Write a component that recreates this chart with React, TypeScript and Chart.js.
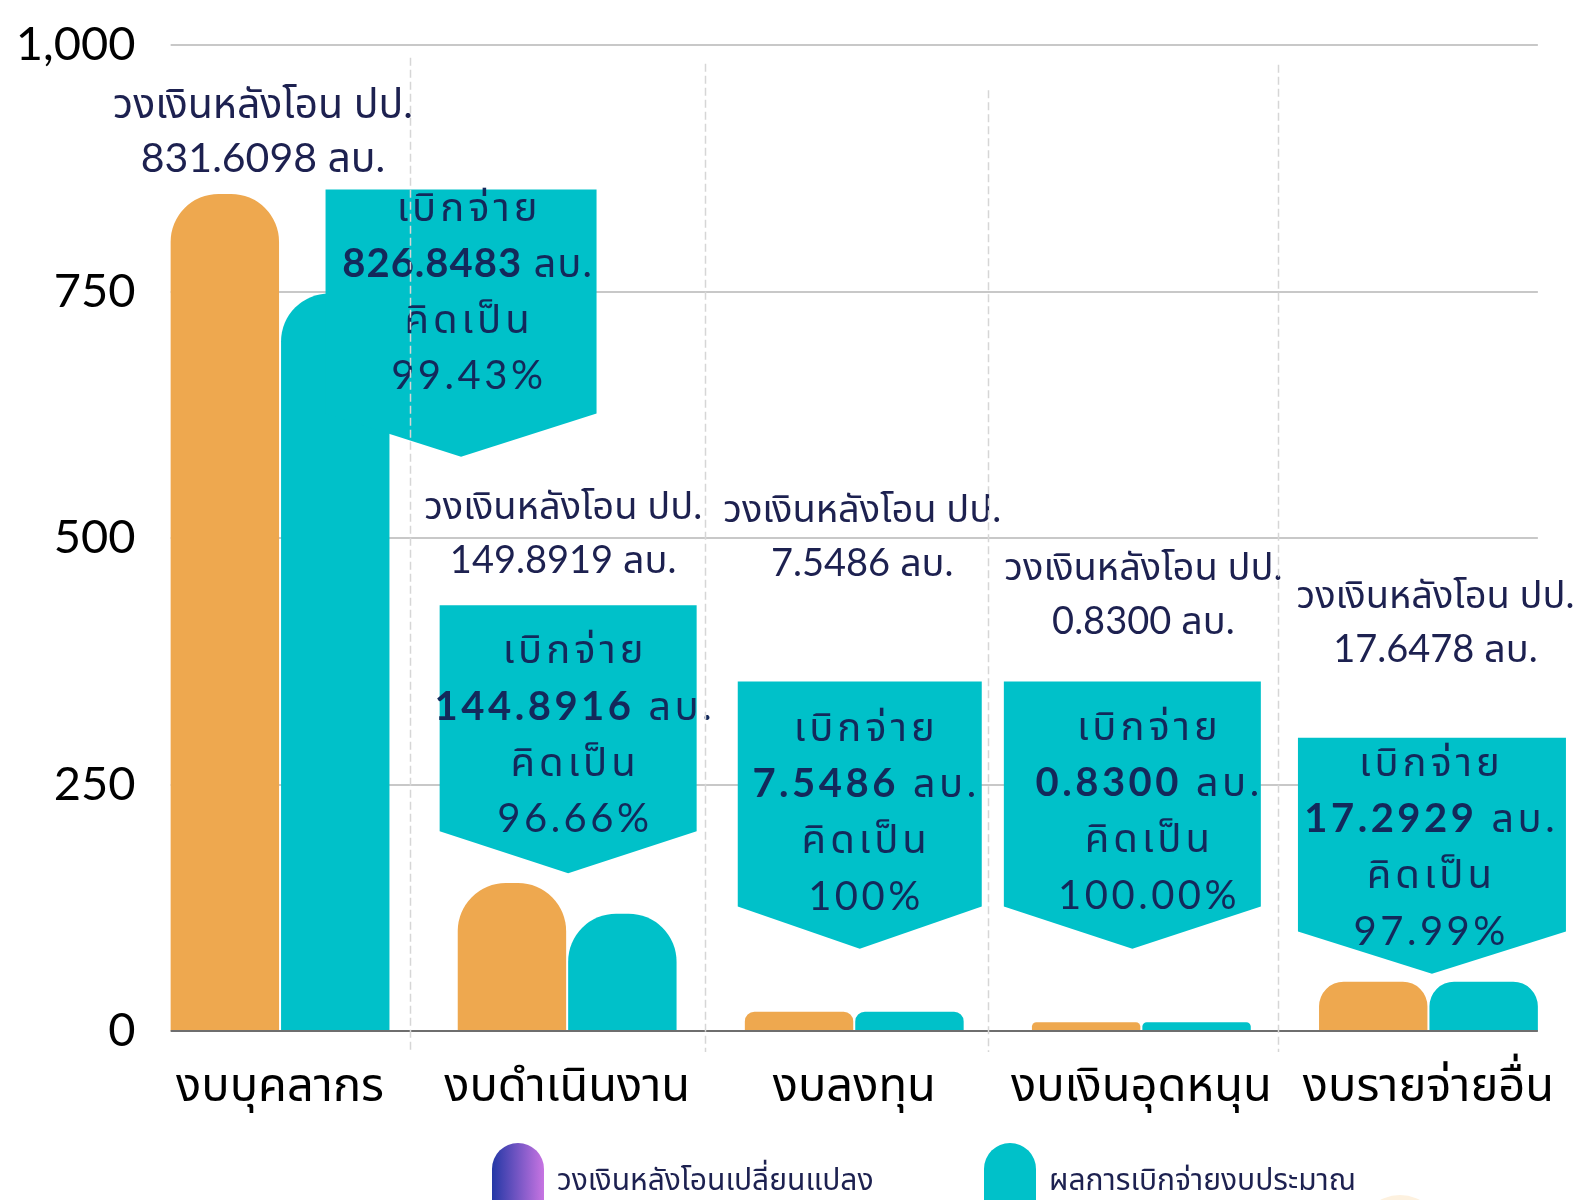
import React, { useEffect, useRef } from 'react';
import { Chart, registerables } from 'chart.js';

Chart.register(...registerables);

// ---------- data ----------
const categories = ['งบบุคลากร', 'งบดำเนินงาน', 'งบลงทุน', 'งบเงินอุดหนุน', 'งบรายจ่ายอื่น'];
const seriesNames = ['วงเงินหลังโอนเปลี่ยนแปลง', 'ผลการเบิกจ่ายงบประมาณ'];
const budgetBars = [849, 150, 19.5, 9, 50];
const spentBars = [748, 119, 19.5, 9, 50];
const budgetText = ['831.6098', '149.8919', '7.5486', '0.8300', '17.6478'];
const spentText = ['826.8483', '144.8916', '7.5486', '0.8300', '17.2929'];
const percentText = ['99.43%', '96.66%', '100%', '100.00%', '97.99%'];
const yTicks = [0, 250, 500, 750, 1000];
const budgetTitle = 'วงเงินหลังโอน ปป.';
const unitText = 'ลบ.';
const spentTitle = 'เบิกจ่าย';
const percentTitle = 'คิดเป็น';

// ---------- styles / layout ----------
const ORANGE = '#EEA84F';
const TEAL = '#00C1C9';
const NAVY = '#1D2150';
const CALLOUT_TEXT = '#13295B';
const GRID = '#C8C8C8';
const BASE = '#6E6E6E';
const DASH = '#D6D6D6';
const FONT = "Lato, 'Noto Sans Thai', 'Noto Sans', sans-serif";

// budget label: x offset from category centre (px), first-line centre (axis value), font size
const labelDx = [-17, -4, 8, 2, 7];
const labelY = [939, 531.6, 528.5, 469.5, 441];
const labelSize = [41, 38, 38, 38, 38];
const LABEL_LINE = 54;
// callouts: centre offset (px), width (px), top / side-bottom / tip (axis value)
const calloutDx = [181, 1, 5.5, -9, 3.5];
const calloutW = [271, 257, 244, 257, 268];
const calloutTop = [853.4, 431.8, 354.4, 354.4, 297.4];
const calloutSide = [626.3, 202.6, 126.3, 126.3, 100.8];
const calloutTip = [582.5, 159.9, 83.5, 83.5, 58];
const calloutTextDx = [187, 6, 10, 6, 1];
const calloutTextY = [835, 386, 307.5, 308.6, 271.9];
const calloutBoldSpacing = [1, 3.5, 3.5, 3.5, 3.5];
const CALLOUT_LINE = 56.3;
// dashed separators: px offset from midpoint between categories, top (axis value)
const dashDx = [-14, -6, -10, -7];
const dashTop = [987, 981, 954, 980];
const dashBottom = -21.4;

function drawParts(ctx: CanvasRenderingContext2D, cx: number, cy: number, parts: { t: string; f: string; ls: number }[]) {
  let total = 0;
  const widths = parts.map(p => {
    ctx.font = p.f;
    (ctx as any).letterSpacing = p.ls + 'px';
    const w = ctx.measureText(p.t).width;
    total += w;
    return w;
  });
  total -= parts[parts.length - 1].ls;
  let x = cx - total / 2;
  parts.forEach((p, i) => {
    ctx.font = p.f;
    (ctx as any).letterSpacing = p.ls + 'px';
    ctx.textAlign = 'left';
    ctx.fillText(p.t, x, cy);
    x += widths[i];
  });
  (ctx as any).letterSpacing = '0px';
}

function barExtent(chart: any) {
  const first = chart.getDatasetMeta(0).data[0];
  const lastMeta = chart.getDatasetMeta(1).data;
  const last = lastMeta[lastMeta.length - 1];
  return [first.x - first.width / 2, last.x + last.width / 2];
}

const decor = {
  id: 'decor',
  beforeDatasetsDraw(chart: any) {
    const { ctx, scales } = chart;
    const y = scales.y;
    const [left, right] = barExtent(chart);
    ctx.save();
    ctx.strokeStyle = GRID;
    ctx.lineWidth = 2;
    yTicks.forEach(v => {
      if (v === 0) return;
      const py = Math.round(y.getPixelForValue(v));
      ctx.beginPath();
      ctx.moveTo(left, py);
      ctx.lineTo(right, py);
      ctx.stroke();
    });
    ctx.restore();
  },
  afterDatasetsDraw(chart: any) {
    const { ctx, scales } = chart;
    const x = scales.x;
    const y = scales.y;
    const [left, right] = barExtent(chart);
    ctx.save();

    // baseline
    const by = Math.round(y.getPixelForValue(0));
    ctx.strokeStyle = BASE;
    ctx.lineWidth = 2;
    ctx.beginPath();
    ctx.moveTo(left, by);
    ctx.lineTo(right, by);
    ctx.stroke();

    categories.forEach((_, i) => {
      const cx = x.getPixelForValue(i);
      // callout shape
      const ccx = cx + calloutDx[i];
      const hw = calloutW[i] / 2;
      const top = y.getPixelForValue(calloutTop[i]);
      const side = y.getPixelForValue(calloutSide[i]);
      const tip = y.getPixelForValue(calloutTip[i]);
      ctx.fillStyle = TEAL;
      ctx.beginPath();
      ctx.moveTo(ccx - hw, top);
      ctx.lineTo(ccx + hw, top);
      ctx.lineTo(ccx + hw, side);
      ctx.lineTo(ccx, tip);
      ctx.lineTo(ccx - hw, side);
      ctx.closePath();
      ctx.fill();

      // callout text
      ctx.fillStyle = CALLOUT_TEXT;
      ctx.textBaseline = 'middle';
      const tx = cx + calloutTextDx[i];
      const ty = y.getPixelForValue(calloutTextY[i]);
      const reg = `400 40px ${FONT}`;
      const bold = `700 40px ${FONT}`;
      const bs = calloutBoldSpacing[i];
      drawParts(ctx, tx, ty, [{ t: spentTitle, f: reg, ls: 4 }]);
      drawParts(ctx, tx, ty + CALLOUT_LINE, [
        { t: spentText[i], f: bold, ls: bs },
        { t: ' ' + unitText, f: reg, ls: bs },
      ]);
      drawParts(ctx, tx, ty + CALLOUT_LINE * 2, [{ t: percentTitle, f: reg, ls: 4 }]);
      drawParts(ctx, tx, ty + CALLOUT_LINE * 3, [{ t: percentText[i], f: reg, ls: 3.5 }]);

      // budget label
      ctx.fillStyle = NAVY;
      const lx = cx + labelDx[i];
      const ly = y.getPixelForValue(labelY[i]);
      const lf = `400 ${labelSize[i]}px ${FONT}`;
      drawParts(ctx, lx, ly, [{ t: budgetTitle, f: lf, ls: 0 }]);
      drawParts(ctx, lx, ly + LABEL_LINE, [{ t: budgetText[i] + ' ' + unitText, f: lf, ls: 0 }]);
    });

    // dashed separators
    ctx.strokeStyle = DASH;
    ctx.lineWidth = 1.5;
    ctx.setLineDash([8, 4]);
    dashDx.forEach((dx, i) => {
      const px = Math.round((x.getPixelForValue(i) + x.getPixelForValue(i + 1)) / 2 + dx) + 0.5;
      ctx.beginPath();
      ctx.moveTo(px, y.getPixelForValue(dashTop[i]));
      ctx.lineTo(px, y.getPixelForValue(dashBottom));
      ctx.stroke();
    });
    ctx.setLineDash([]);

    // legend
    const H = chart.height;
    const legendX = [492, 984];
    const swW = 52;
    const swTop = 1143;
    legendX.forEach((lx0, i) => {
      if (i === 0) {
        const g = ctx.createLinearGradient(lx0, 0, lx0 + swW, 0);
        g.addColorStop(0, '#2438A6');
        g.addColorStop(1, '#C774E2');
        ctx.fillStyle = g;
      } else {
        ctx.fillStyle = TEAL;
      }
      ctx.beginPath();
      (ctx as any).roundRect(lx0, swTop, swW, H - swTop + 40, [26, 26, 0, 0]);
      ctx.fill();
      ctx.fillStyle = NAVY;
      ctx.font = `400 30px ${FONT}`;
      ctx.textAlign = 'left';
      ctx.textBaseline = 'middle';
      ctx.fillText(seriesNames[i], lx0 + swW + 13, 1180);
    });
    // faint decoration at bottom
    ctx.fillStyle = '#FDF1DF';
    ctx.beginPath();
    ctx.arc(1400, 1237, 42, 0, Math.PI * 2);
    ctx.fill();

    ctx.restore();
  },
};

export default function App() {
  const ref = useRef<HTMLCanvasElement | null>(null);
  useEffect(() => {
    document.body.style.margin = '0';
    const canvas = ref.current;
    if (!canvas) return;
    const chart = new Chart(canvas, {
      type: 'bar',
      data: {
        labels: categories,
        datasets: [
          {
            label: seriesNames[0],
            data: budgetBars,
            backgroundColor: ORANGE,
            borderRadius: { topLeft: 48, topRight: 48, bottomLeft: 0, bottomRight: 0 },
            borderSkipped: false,
            categoryPercentage: 0.7692,
            barPercentage: 0.9818,
          },
          {
            label: seriesNames[1],
            data: spentBars,
            backgroundColor: TEAL,
            borderRadius: { topLeft: 48, topRight: 48, bottomLeft: 0, bottomRight: 0 },
            borderSkipped: false,
            categoryPercentage: 0.7692,
            barPercentage: 0.9818,
          },
        ],
      },
      options: {
        responsive: false,
        animation: false,
        devicePixelRatio: 1,
        layout: { padding: { top: 45, right: 2, bottom: 0, left: 0 } },
        plugins: { legend: { display: false }, tooltip: { enabled: false } },
        scales: {
          x: {
            grid: { display: false, drawTicks: false, tickLength: 0 },
            border: { display: false },
            ticks: { color: '#000', font: { family: FONT, size: 47 }, padding: 27, maxRotation: 0, autoSkip: false },
            afterFit: (s: any) => {
              s.height = 169;
              s.paddingLeft = 0;
              s.paddingRight = 0;
            },
          },
          y: {
            min: 0,
            max: 1000,
            grid: { display: false, drawTicks: false, tickLength: 0 },
            border: { display: false },
            ticks: {
              color: '#000',
              font: { family: FONT, size: 47 },
              padding: 1,
              callback: (v: any) => Number(v).toLocaleString('en-US'),
            },
            afterBuildTicks: (s: any) => { s.ticks = yTicks.map(v => ({ value: v })); },
            afterFit: (s: any) => {
              s.width = 136.5;
              s.paddingTop = 0;
              s.paddingBottom = 0;
            },
          },
        },
      },
      plugins: [decor],
    });
    return () => chart.destroy();
  }, []);
  return (
    <div style={{ position: 'absolute', left: 0, top: 0, width: 1574, height: 1200, background: '#fff' }}>
      <canvas ref={ref} width={1574} height={1200} style={{ width: 1574, height: 1200, display: 'block' }} />
    </div>
  );
}
